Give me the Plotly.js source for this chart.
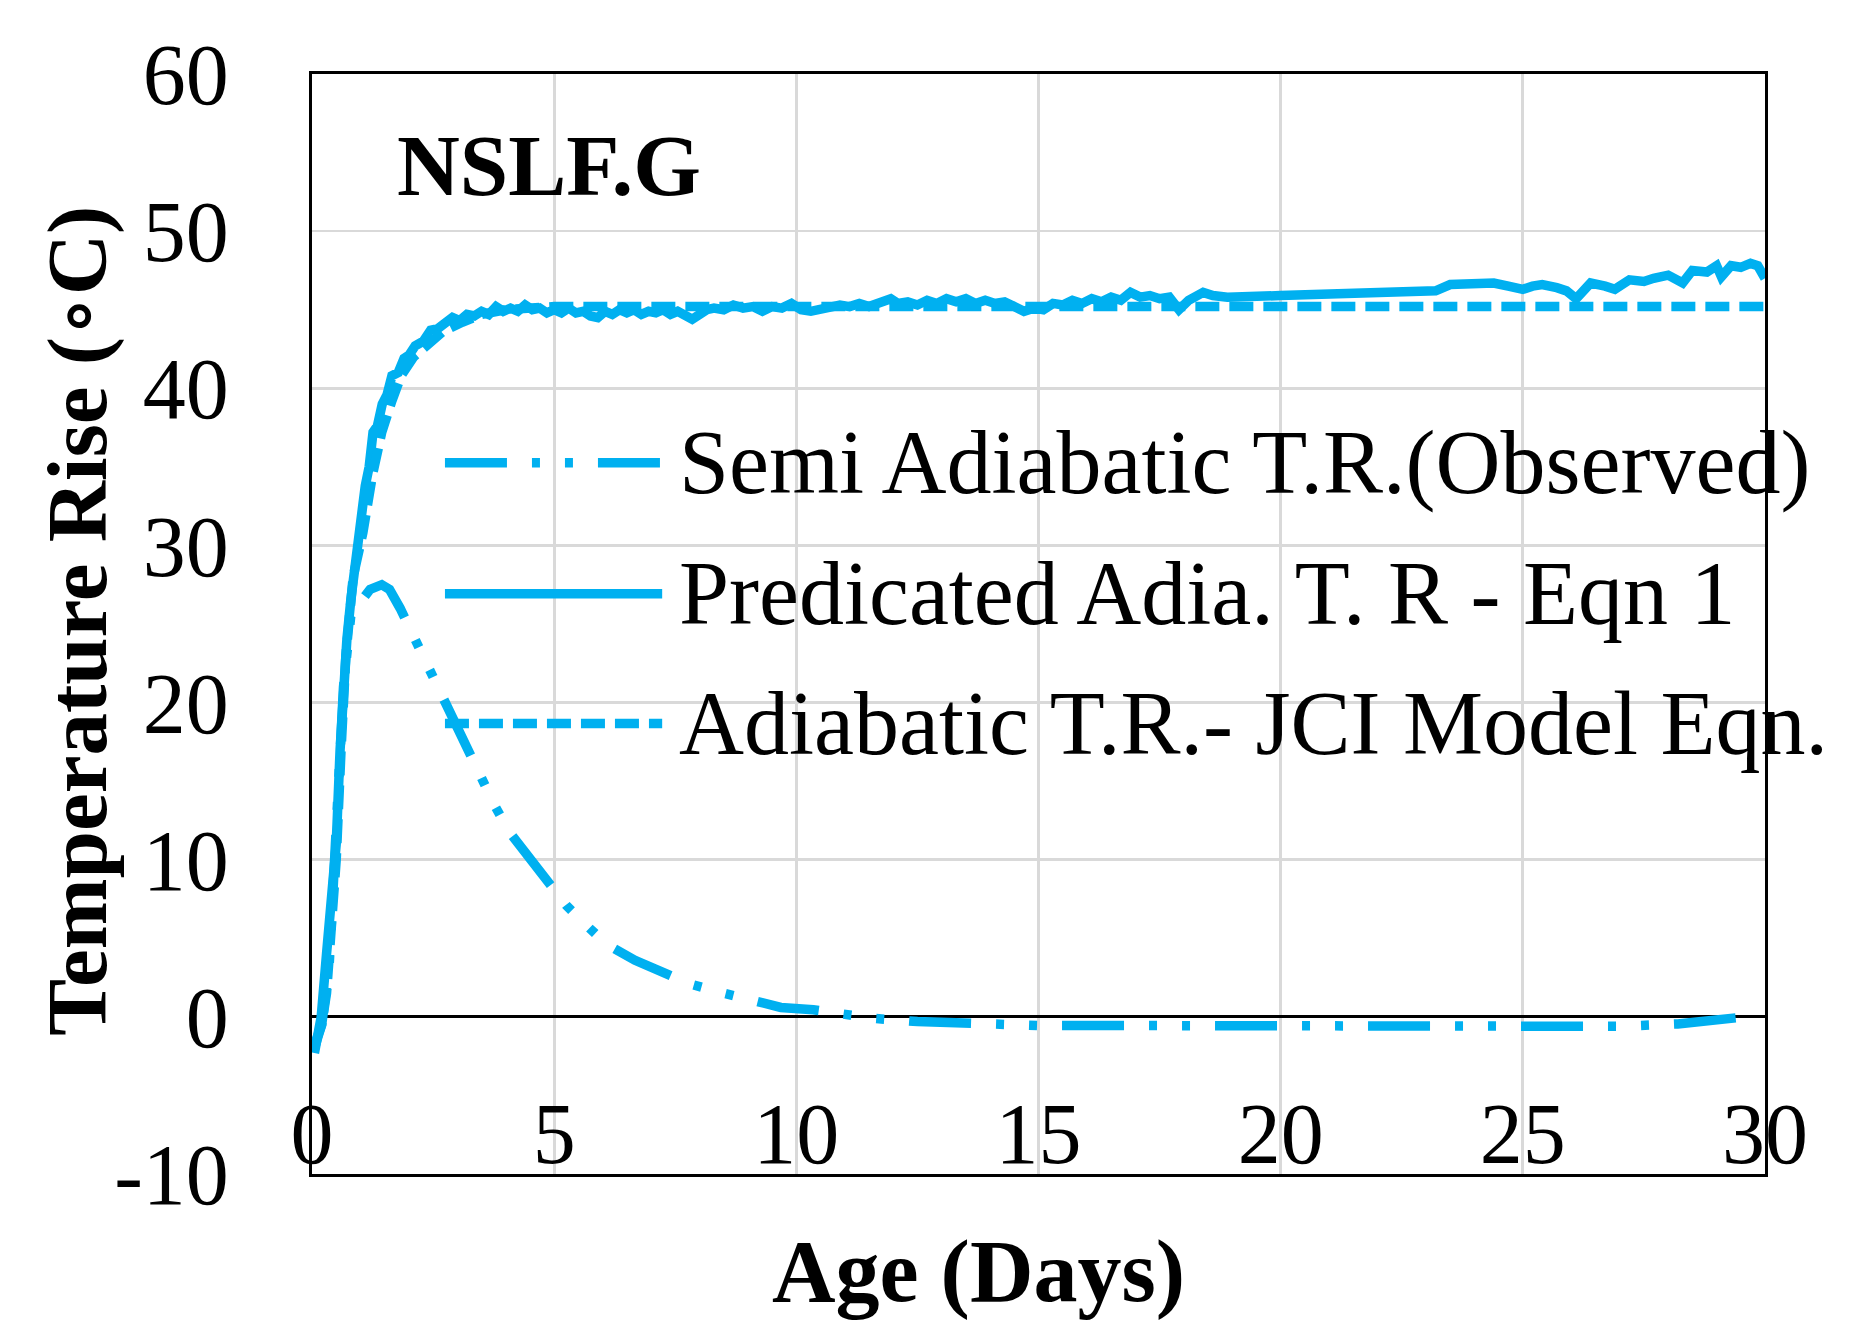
<!DOCTYPE html>
<html>
<head>
<meta charset="utf-8">
<script src="https://cdn.plot.ly/plotly-3.0.1.min.js"></script>
<style>
html, body { margin: 0; padding: 0; background: #fff; }
#chart { width: 1857px; height: 1335px; }
</style>
</head>
<body>
<div id="chart"></div>
<script>
// Semi adiabatic temperature rise (observed)
const semi_age  = [0.05, 0.2, 0.35, 0.45, 0.55, 0.65, 0.8, 1.0, 1.2, 1.44, 1.6, 1.82, 2.1, 2.35, 2.62, 2.9, 3.2, 3.5, 3.78, 4.09, 4.48, 4.85, 5.25, 5.64, 6.09, 6.67, 7.25, 7.8, 8.38, 9.0, 9.68, 10.35, 11.0, 11.6, 12.5, 13.6, 14.3, 15.0, 16.0, 17.0, 18.3, 19.5, 20.5, 21.6, 23.0, 24.9, 26.0, 27.0, 28.2, 29.0, 29.6]
const semi_temp = [-2.0, -0.5, 3.0, 8.0, 15.0, 21.0, 25.5, 26.4, 27.2, 27.5, 27.2, 26.0, 24.2, 22.5, 20.7, 18.8, 16.9, 15.1, 13.4, 11.7, 10.1, 8.5, 7.1, 5.9, 4.6, 3.6, 2.8, 2.1, 1.6, 1.1, 0.6, 0.45, 0.15, -0.1, -0.3, -0.45, -0.6, -0.55, -0.55, -0.55, -0.6, -0.6, -0.65, -0.65, -0.7, -0.7, -0.7, -0.6, -0.45, -0.2, 0.0]

// Predicted adiabatic temperature rise - Eqn 1
const pred_age  = [0.05, 0.12, 0.19, 0.3, 0.4, 0.5, 0.58, 0.65, 0.72, 0.8, 0.88, 0.95, 1.02, 1.1, 1.18, 1.26, 1.35, 1.45, 1.55, 1.65, 1.78, 1.9, 2.0, 2.13, 2.3, 2.45, 2.6,
    2.75, 2.9, 3.05, 3.2, 3.35, 3.5, 3.65, 3.8, 3.95, 4.1, 4.25, 4.4, 4.55, 4.7, 4.85, 5.0, 5.15, 5.3, 5.45, 5.6, 5.75, 5.9, 6.05, 6.2, 6.35, 6.5, 6.65, 6.8, 6.95, 7.1, 7.25, 7.4, 7.55, 7.7, 7.85, 8.0, 8.15,
    8.3, 8.5, 8.7, 8.9, 9.1, 9.3, 9.5, 9.7, 9.9, 10.1, 10.3, 10.5, 10.7, 10.9, 11.1, 11.3, 11.5, 11.7, 11.95, 12.1, 12.3, 12.5, 12.7, 12.9, 13.1, 13.3, 13.5, 13.7, 13.9, 14.1, 14.3, 14.5, 14.7, 14.9,
    15.1, 15.3, 15.5, 15.7, 15.9, 16.1, 16.3, 16.5, 16.7, 16.9, 17.1, 17.3, 17.5, 17.7, 17.9, 18.1, 18.4, 18.6, 18.9,
    20.0, 21.0, 22.0, 23.2, 23.5, 24.0, 24.4, 24.7, 25.0, 25.2, 25.4, 25.7, 25.9, 26.1, 26.4, 26.7, 26.9, 27.2, 27.5, 27.7, 28.0, 28.3, 28.5, 28.8, 29.0, 29.1, 29.3, 29.5, 29.7, 29.85, 30.0]
const pred_temp = [-2.3, -1.2, 0.0, 4.0, 7.0, 11.0, 17.0, 21.0, 24.0, 26.5, 28.8, 30.8, 31.9, 33.8, 35.0, 37.2, 37.6, 39.0, 39.6, 40.8, 41.0, 41.9, 42.1, 42.7, 43.0, 43.7, 43.8,
    44.2, 44.5, 44.3, 44.7, 44.6, 44.9, 44.7, 45.2, 44.9, 45.1, 44.9, 45.3, 45.0, 45.1, 44.8, 45.0, 44.8, 45.1, 44.8, 44.9, 44.6, 44.5, 44.9, 44.7, 45.0, 44.8, 45.0, 44.7, 44.9, 44.8, 45.0, 44.7, 44.9, 44.6, 44.4, 44.7, 45.0,
    45.1, 45.0, 45.3, 45.1, 45.2, 44.9, 45.2, 45.1, 45.4, 45.0, 44.9, 45.0, 45.2, 45.3, 45.2, 45.4, 45.2, 45.4, 45.7, 45.4, 45.5, 45.3, 45.6, 45.4, 45.7, 45.5, 45.7, 45.4, 45.6, 45.4, 45.5, 45.2, 44.9, 45.1,
    45.0, 45.4, 45.3, 45.6, 45.4, 45.7, 45.5, 45.8, 45.6, 46.1, 45.8, 45.9, 45.7, 45.8, 45.0, 45.6, 46.1, 45.9, 45.8,
    45.9, 46.0, 46.1, 46.2, 46.6, 46.6, 46.7, 46.5, 46.3, 46.5, 46.6, 46.4, 46.2, 45.7, 46.7, 46.5, 46.3, 46.9, 46.8, 47.0, 47.2, 46.7, 47.5, 47.4, 47.8, 47.1, 47.8, 47.7, 47.95, 47.8, 47.0]

// Adiabatic temperature rise - JCI model equation
const jci_age  = [0.05, 0.2, 0.3, 0.4, 0.5, 0.6, 0.7, 0.85, 1.05, 1.25, 1.44, 1.65, 1.84, 2.1, 2.35, 2.7, 3.1, 3.5, 4.0, 4.5, 5.0, 10.0, 15.0, 20.0, 25.0, 30.0]
const jci_temp = [-1.8, -0.5, 1.5, 5.0, 10.0, 17.0, 23.0, 28.0, 30.8, 34.5, 37.2, 39.2, 40.8, 42.0, 42.7, 43.6, 44.2, 44.7, 45.0, 45.1, 45.2, 45.2, 45.2, 45.2, 45.2, 45.2]

const series_names = ["Semi Adiabatic T.R.(Observed)", "Predicated Adia. T. R - Eqn 1", "Adiabatic T.R.- JCI Model Eqn."]

const x_ticks = [0, 5, 10, 15, 20, 25, 30]
const y_ticks = [-10, 0, 10, 20, 30, 40, 50, 60]
const y_tick_text = ["-10", "0", "10", "20", "30", "40", "50", "60"]

const LINE_COLOR = "#00B0F0"
const LINE_WIDTH = 9.5
const FONT = "Liberation Serif, DejaVu Serif, serif"
const DASH_DOT_DOT = "62px,25px,8px,25px,8px,25px"
const SHORT_DASH = "24px,10px"

function draw_chart()
{
    const styles = [DASH_DOT_DOT, "solid", SHORT_DASH]

    const data = [
        { x: semi_age, y: semi_temp, name: series_names[0], mode: 'lines',
          line: { color: LINE_COLOR, width: LINE_WIDTH, dash: styles[0] } },
        { x: pred_age, y: pred_temp, name: series_names[1], mode: 'lines',
          line: { color: LINE_COLOR, width: LINE_WIDTH, dash: styles[1] } },
        { x: jci_age, y: jci_temp, name: series_names[2], mode: 'lines',
          line: { color: LINE_COLOR, width: LINE_WIDTH, dash: styles[2] } }
    ]

    // hand drawn legend so the line samples get the long Excel look
    const shapes = []
    const annotations = []
    const legend_y = [0.6465, 0.5275, 0.4095]
    for (let i = 0; i < series_names.length; i++) {
        shapes.push({
            type: 'line', xref: 'paper', yref: 'paper',
            x0: 0.0915, x1: 0.241, y0: legend_y[i], y1: legend_y[i],
            line: { color: LINE_COLOR, width: LINE_WIDTH, dash: styles[i] }
        })
        annotations.push({
            text: series_names[i], xref: 'paper', yref: 'paper',
            x: 0.251, y: legend_y[i], xanchor: 'left', yanchor: 'middle',
            showarrow: false, font: { family: FONT, size: 90, color: '#000' }
        })
    }

    annotations.push({
        text: "NSLF.G", xref: 'paper', yref: 'paper',
        x: 0.057, y: 0.917, xanchor: 'left', yanchor: 'middle', showarrow: false,
        font: { family: FONT, size: 87, color: '#000', weight: 'bold' }
    })

    // axis titles as annotations, the original places them off the plot centre
    annotations.push({
        text: "Age (Days)", xref: 'paper', yref: 'paper',
        x: 0.459, y: -0.089, xanchor: 'center', yanchor: 'middle', showarrow: false,
        font: { family: FONT, size: 88, color: '#000', weight: 'bold' }
    })
    annotations.push({
        text: "Temperature Rise (<span style=\"font-weight:normal\">∘</span>C)",
        xref: 'paper', yref: 'paper', textangle: -90,
        x: -0.161, y: 0.503, xanchor: 'center', yanchor: 'middle', showarrow: false,
        font: { family: FONT, size: 85, color: '#000', weight: 'bold' }
    })

    const layout = {
        width: 1857,
        height: 1335,
        autosize: false,
        showlegend: false,
        paper_bgcolor: '#fff',
        plot_bgcolor: '#fff',
        margin: { l: 312, r: 92, t: 74, b: 161 },
        font: { family: FONT, size: 86, color: '#000' },
        xaxis: {
            range: [0, 30],
            tickvals: x_ticks,
            ticks: '',
            ticklabelposition: 'inside',
            ticklabeloverflow: 'allow',
            ticklabelstandoff: 8,
            tickfont: { family: FONT, size: 86, color: '#000' },
            showgrid: true, gridcolor: '#d9d9d9', gridwidth: 2.7,
            zeroline: false,
            showline: true, mirror: true, linecolor: '#000', linewidth: 3
        },
        yaxis: {
            range: [-10, 60],
            tickvals: y_ticks,
            ticktext: y_tick_text,
            ticks: '',
            ticklabelstandoff: 63,
            tickfont: { family: FONT, size: 86, color: '#000' },
            showgrid: true, gridcolor: '#d9d9d9', gridwidth: 2.7,
            zeroline: true, zerolinecolor: '#000', zerolinewidth: 3,
            showline: true, mirror: true, linecolor: '#000', linewidth: 3
        },
        shapes: shapes,
        annotations: annotations
    }

    const plot = document.getElementById("chart")
    Plotly.newPlot(plot, data, layout, { displayModeBar: false, staticPlot: true })
}

draw_chart()
</script>
</body>
</html>
